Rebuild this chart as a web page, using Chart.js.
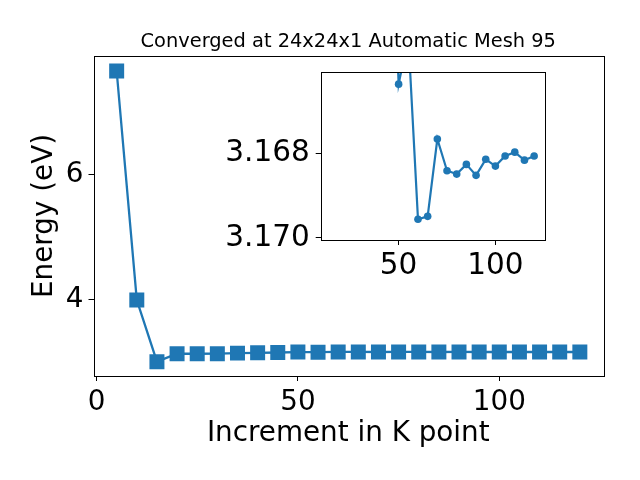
<!DOCTYPE html>
<html>
<head>
<meta charset="utf-8">
<script src="https://cdn.jsdelivr.net/npm/chart.js@4/dist/chart.umd.min.js"></script>
<style>
  body { margin: 0; background: #fff; }
  #wrap { position: relative; width: 640px; height: 480px; }
  #main { position: absolute; left: 0; top: 0; }
  #inset { position: absolute; left: 200px; top: 60px; }
</style>
</head>
<body>
<div id="wrap">
  <canvas id="main" width="640" height="480"></canvas>
  <canvas id="inset" width="360" height="230"></canvas>
</div>
<script>
// Data
const kPoints = [5, 10, 15, 20, 25, 30, 35, 40, 45, 50, 55, 60,
                 65, 70, 75, 80, 85, 90, 95, 100, 105, 110, 115, 120];
const energy = [7.664, 4.0, 3.013, 3.140, 3.140, 3.141, 3.150, 3.155, 3.160, 3.16636, 3.16524, 3.16956,
                3.16949, 3.16766, 3.16841, 3.16849, 3.16826, 3.16852, 3.16814, 3.16830, 3.16806, 3.16797, 3.16816, 3.16806];
const mainXTicks = [0, 50, 100];
const mainYTicks = [4, 6];
const insetXTicks = [50, 100];
const insetYTicks = [3.168, 3.170];
const insetStart = 2; // inset plots from the third k point on
const titleText = 'Converged at 24x24x1 Automatic Mesh 95';

const BLUE = '#1f77b4';
Chart.defaults.font.family = "'DejaVu Sans', sans-serif";
Chart.defaults.color = '#000';

const points = kPoints.map((k, i) => ({ x: k, y: energy[i] }));

// Draw the box round the plot area (matplotlib style frame)
const framePlugin = {
    id: 'frame',
    beforeDraw(chart, args, opts) {
        if (!opts.fill) return;
        const { ctx, chartArea: a } = chart;
        ctx.save();
        ctx.fillStyle = '#fff';
        ctx.fillRect(a.left, a.top, a.right - a.left, a.bottom - a.top);
        ctx.restore();
    },
    afterDraw(chart) {
        const { ctx, chartArea: a } = chart;
        ctx.save();
        ctx.strokeStyle = '#000';
        ctx.lineWidth = 1;
        ctx.strokeRect(Math.round(a.left) + 0.5, Math.round(a.top) + 0.5,
                       Math.round(a.right - a.left), Math.round(a.bottom - a.top));
        ctx.restore();
    }
};

function tickGrid() {
    return { display: true, drawOnChartArea: false, drawTicks: true, tickLength: 5, color: '#000', lineWidth: 1 };
}

function fixedTicks(list) {
    return scale => { scale.ticks = list.map(v => ({ value: v })); };
}

// Force the axis box size and drop the label overhang padding
function fixSize(key, size) {
    return scale => {
        scale[key] = size;
        scale.paddingTop = 0;
        scale.paddingBottom = 0;
        scale.paddingLeft = 0;
        scale.paddingRight = 0;
    };
}

// Main chart
new Chart(document.getElementById('main'), {
    type: 'line',
    data: {
        datasets: [{
            data: points,
            borderColor: BLUE,
            backgroundColor: BLUE,
            borderWidth: 2.3,
            pointStyle: 'rect',
            pointRadius: 10.6,
            pointBorderWidth: 0,
            tension: 0
        }]
    },
    options: {
        responsive: false,
        animation: false,
        devicePixelRatio: 1,
        layout: { padding: { left: 0, right: 37, top: 0, bottom: 0 } },
        plugins: {
            legend: { display: false },
            tooltip: { enabled: false },
            title: {
                display: true,
                fullSize: false,
                text: titleText,
                color: '#000',
                font: { size: 19.4, weight: 'normal' },
                padding: { top: 30, bottom: 2.7 }
            }
        },
        scales: {
            x: {
                type: 'linear',
                min: -0.75,
                max: 125.75,
                afterBuildTicks: fixedTicks(mainXTicks),
                afterFit: fixSize('height', 104),
                grid: tickGrid(),
                border: { display: false },
                ticks: { font: { size: 27.8 }, padding: 5, maxRotation: 0 },
                title: { display: true, text: 'Increment in K point', font: { size: 27.8 }, padding: { top: 0, bottom: 30 } }
            },
            y: {
                type: 'linear',
                min: 2.784,
                max: 7.904,
                afterBuildTicks: fixedTicks(mainYTicks),
                afterFit: fixSize('width', 93.5),
                grid: tickGrid(),
                border: { display: false },
                ticks: { font: { size: 27.8 }, padding: 5 },
                title: { display: true, text: 'Energy (eV)', font: { size: 27.8 }, padding: { top: 28, bottom: 0 } }
            }
        }
    },
    plugins: [framePlugin]
});

// Inset chart (zoomed, y axis reversed)
new Chart(document.getElementById('inset'), {
    type: 'line',
    data: {
        datasets: [{
            data: points.slice(insetStart),
            borderColor: BLUE,
            backgroundColor: BLUE,
            borderWidth: 2.2,
            pointStyle: 'circle',
            pointRadius: 3.8,
            pointBorderWidth: 0,
            tension: 0
        }]
    },
    options: {
        responsive: false,
        animation: false,
        devicePixelRatio: 1,
        layout: { padding: { left: 0, right: 15.7, top: 12.3, bottom: 0 } },
        plugins: {
            legend: { display: false },
            tooltip: { enabled: false },
            frame: { fill: true }
        },
        scales: {
            x: {
                type: 'linear',
                min: 9.75,
                max: 125.25,
                afterBuildTicks: fixedTicks(insetXTicks),
                afterFit: fixSize('height', 50),
                grid: tickGrid(),
                border: { display: false },
                ticks: { font: { size: 29.5 }, padding: 4, maxRotation: 0 }
            },
            y: {
                type: 'linear',
                reverse: true,
                min: 3.16608,
                max: 3.17005,
                afterBuildTicks: fixedTicks(insetYTicks),
                afterFit: fixSize('width', 120.7),
                grid: tickGrid(),
                border: { display: false },
                ticks: { font: { size: 29.5 }, padding: 6, callback: v => v.toFixed(3) }
            }
        }
    },
    plugins: [framePlugin]
});
</script>
</body>
</html>
